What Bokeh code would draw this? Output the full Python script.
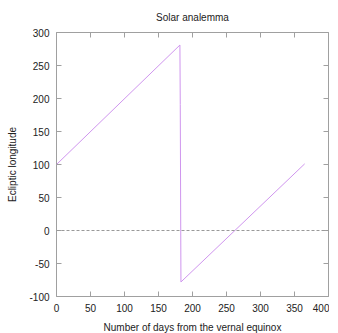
from bokeh.plotting import figure
from bokeh.models import LinearAxis, Span, Range1d, FixedTicker
from bokeh.embed import file_html
from bokeh.resources import INLINE

# Data
days = [0, 181.5, 182, 183, 365]
longitude = [100, 281, 191, -78, 101]
x_ticks = [0, 50, 100, 150, 200, 250, 300, 350, 400]
y_ticks = [-100, -50, 0, 50, 100, 150, 200, 250, 300]

FONT = "Liberation Sans"
GRAY = "#a0a0a0"
TXT = "#222222"

p = figure(frame_width=272, frame_height=264, output_backend="svg", toolbar_location=None,
           x_range=Range1d(0, 400), y_range=Range1d(-100, 300),
           min_border_left=56, min_border_right=1, min_border_top=32, min_border_bottom=30)
p.title.text = "Solar analemma"
p.title.align = "center"
p.title.text_font = FONT
p.title.text_font_size = "10px"
p.title.text_font_style = "normal"
p.title.text_color = TXT
p.title.standoff = 19

p.grid.visible = False
p.outline_line_color = GRAY
p.outline_line_width = 1

for ax in p.xaxis + p.yaxis:
    ax.axis_line_color = None
    ax.major_tick_in = 5
    ax.major_tick_out = 0
    ax.major_tick_line_color = GRAY
    ax.minor_tick_line_color = None
    ax.major_label_text_font = FONT
    ax.major_label_text_font_size = "10px"
    ax.major_label_text_color = TXT
    ax.axis_label_text_font = FONT
    ax.axis_label_text_font_size = "10px"
    ax.axis_label_text_font_style = "normal"
    ax.axis_label_text_color = TXT

p.xaxis.ticker = FixedTicker(ticks=x_ticks)
p.yaxis.ticker = FixedTicker(ticks=y_ticks)
p.yaxis.major_label_overrides = {t: str(t) for t in y_ticks}
p.xaxis.axis_label = "Number of days from the vernal equinox"
p.yaxis.axis_label = "Ecliptic longitude"
p.xaxis.major_label_standoff = 7
p.yaxis.major_label_standoff = 7
p.xaxis.axis_label_standoff = 7
p.yaxis.axis_label_standoff = 8

# mirror ticks
top = LinearAxis(ticker=FixedTicker(ticks=x_ticks), axis_line_color=None,
                 major_tick_in=5, major_tick_out=0, major_tick_line_color=GRAY,
                 minor_tick_line_color=None, major_label_text_font_size="0px",
                 major_label_standoff=0)
right = LinearAxis(ticker=FixedTicker(ticks=y_ticks), axis_line_color=None,
                   major_tick_in=5, major_tick_out=0, major_tick_line_color=GRAY,
                   minor_tick_line_color=None, major_label_text_font_size="0px",
                   major_label_standoff=0)
p.add_layout(top, "above")
p.add_layout(right, "right")

p.add_layout(Span(location=0, dimension="width", line_color="#999999",
                  line_dash="3 2", line_width=1))

p.line(days, longitude, line_color="#cf95ee", line_width=1)

open("out.html", "w").write(file_html(p, INLINE))
